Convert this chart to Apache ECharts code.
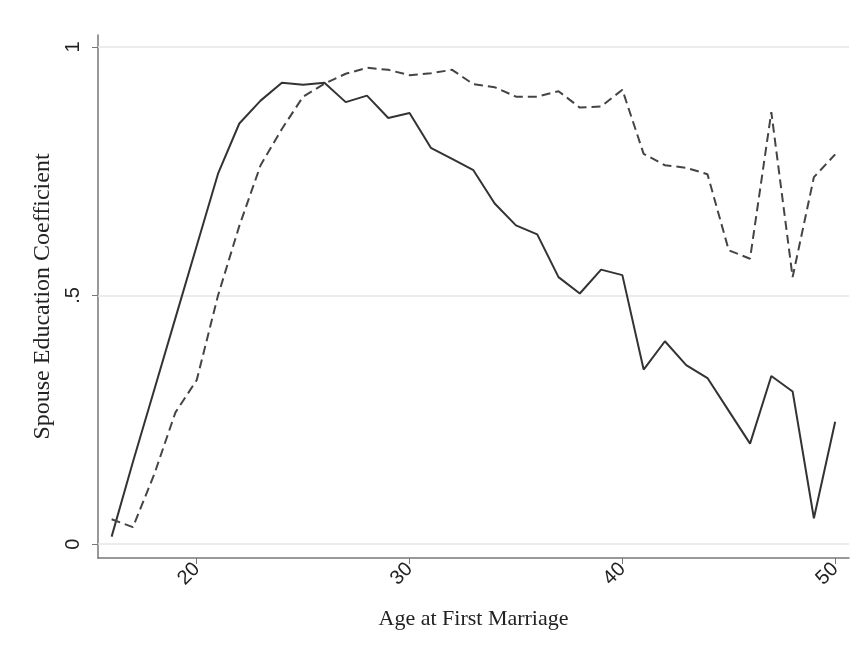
<!DOCTYPE html>
<html>
<head>
<meta charset="utf-8">
<script src="https://cdn.jsdelivr.net/npm/echarts@6/dist/echarts.min.js"></script>
<style>
  html, body { margin: 0; padding: 0; background: #fff; }
  #main { width: 859px; height: 650px; }
</style>
</head>
<body>
<div id="main"></div>
<script>
// age at first marriage
var ages = [16, 17, 18, 19, 20, 21, 22, 23, 24, 25, 26, 27, 28, 29, 30, 31, 32, 33,
  34, 35, 36, 37, 38, 39, 40, 41, 42, 43, 44, 45, 46, 47, 48, 49, 50];
// solid line
var solidVals = [0.015, 0.165, 0.31, 0.455, 0.60, 0.745, 0.846, 0.892, 0.928, 0.924, 0.928,
  0.889, 0.902, 0.857, 0.867, 0.797, 0.775, 0.752, 0.685, 0.641, 0.623, 0.537, 0.504,
  0.552, 0.541, 0.351, 0.408, 0.360, 0.334, 0.268, 0.202, 0.338, 0.307, 0.052, 0.246];
// dashed line
var dashedVals = [0.05, 0.034, 0.14, 0.265, 0.33, 0.50, 0.64, 0.762, 0.835, 0.90, 0.926,
  0.946, 0.958, 0.954, 0.943, 0.947, 0.954, 0.925, 0.919, 0.90, 0.90, 0.911, 0.878,
  0.880, 0.914, 0.785, 0.762, 0.757, 0.744, 0.591, 0.574, 0.869, 0.537, 0.738, 0.784];
var xTicks = [20, 30, 40, 50];
var yTicks = [0, 0.5, 1];

var myChart = echarts.init(document.getElementById('main'));

function pairs(vals) {
  return ages.map(function (a, i) { return [a, vals[i]]; });
}

var option = {
  animation: false,
  backgroundColor: '#fff',
  grid: { left: 98, right: 10, top: 35, bottom: 92 },
  xAxis: {
    type: 'value',
    min: 15.36,
    max: 50.65,
    name: 'Age at First Marriage',
    nameLocation: 'middle',
    nameGap: 50,
    nameTextStyle: { fontFamily: 'Liberation Serif', fontSize: 22, color: '#222' },
    axisLine: { onZero: false, lineStyle: { color: '#777', width: 1.5 } },
    axisTick: { show: true, length: 6, customValues: xTicks, lineStyle: { color: '#777' } },
    axisLabel: {
      customValues: xTicks,
      rotate: 45,
      margin: 8,
      fontFamily: 'Liberation Sans',
      fontSize: 20,
      color: '#222'
    },
    splitLine: { show: false }
  },
  yAxis: {
    type: 'value',
    min: -0.028,
    max: 1.024,
    name: 'Spouse Education Coefficient',
    nameLocation: 'middle',
    nameGap: 32,
    nameTextStyle: { fontFamily: 'Liberation Serif', fontSize: 24, color: '#222' },
    axisLine: { show: true, onZero: false, lineStyle: { color: '#777', width: 1.5 } },
    axisTick: { show: true, length: 6, customValues: yTicks, lineStyle: { color: '#777' } },
    axisLabel: {
      customValues: yTicks,
      rotate: 90,
      margin: 15,
      fontFamily: 'Liberation Sans',
      fontSize: 20,
      color: '#222',
      formatter: function (v) {
        if (v === 0.5) return '.5';
        return String(v);
      }
    },
    splitLine: { show: false }
  },
  series: [
    {
      name: 'solid',
      type: 'line',
      data: pairs(solidVals),
      symbol: 'none',
      lineStyle: { color: '#333', width: 2 },
      markLine: {
        silent: true,
        symbol: 'none',
        label: { show: false },
        lineStyle: { color: '#e6e6e6', width: 1.5, type: 'solid' },
        data: yTicks.map(function (t) { return { yAxis: t }; }),
        z: 1
      },
      z: 3
    },
    {
      name: 'dashed',
      type: 'line',
      data: pairs(dashedVals),
      symbol: 'none',
      lineStyle: { color: '#444', width: 2, type: [9, 5] },
      z: 3
    }
  ]
};
myChart.setOption(option, true);
</script>
</body>
</html>
